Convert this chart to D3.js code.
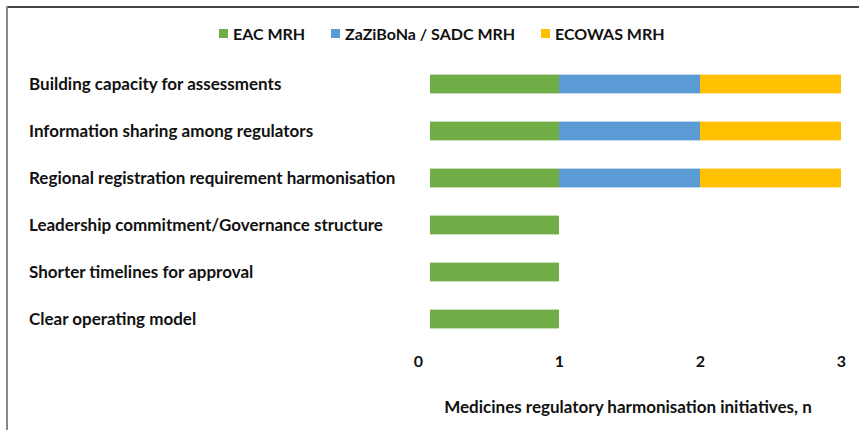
<!DOCTYPE html>
<meta charset="utf-8">
<head>
<style>
  * { margin: 0; padding: 0; }
  body { background: #fff; }
  svg { display: block; font-family: Lato, "Open Sans", sans-serif; font-weight: bold; }
</style>
</head>
<body>
<svg id="chart" width="859" height="430"></svg>
<script src="https://cdn.jsdelivr.net/npm/d3@7"></script>
<script>
// categories, top to bottom
var categories = [
  "Building capacity for assessments",
  "Information sharing among regulators",
  "Regional registration requirement harmonisation",
  "Leadership commitment/Governance structure",
  "Shorter timelines for approval",
  "Clear operating model"
];
var seriesNames = ["EAC MRH", "ZaZiBoNa / SADC MRH", "ECOWAS MRH"];
var seriesColors = ["#70AD47", "#5B9BD5", "#FFC000"];
var eacValues    = [1, 1, 1, 1, 1, 1];
var sadcValues   = [1, 1, 1, 0, 0, 0];
var ecowasValues = [1, 1, 1, 0, 0, 0];
var xTicks = [0, 1, 2, 3];
var xTitle = "Medicines regulatory harmonisation initiatives, n";

var svg = d3.select("#chart");

// frame lines
svg.append("line").attr("x1", 7).attr("x2", 859).attr("y1", 7).attr("y2", 7)
  .attr("stroke", "#444").attr("stroke-width", 2);
svg.append("line").attr("x1", 7).attr("x2", 7).attr("y1", 6).attr("y2", 430)
  .attr("stroke", "#888").attr("stroke-width", 2);

var rows = categories.map(function(c, i) {
  return { cat: c, eac: eacValues[i], sadc: sadcValues[i], ecowas: ecowasValues[i] };
});
var stack = d3.stack().keys(["eac", "sadc", "ecowas"]);
var layers = stack(rows);

var x = d3.scaleLinear().domain([0, 3]).range([418, 841]);
var y = d3.scaleBand().domain(categories).range([60.5, 342.5]).paddingInner(0.6).paddingOuter(0.3);

var color = d3.scaleOrdinal().domain([0, 1, 2]).range(seriesColors);
// the first segment starts a little right of the zero tick in the original
var barStart = 12;

svg.append("g").selectAll("g")
  .data(layers)
  .enter().append("g")
  .attr("fill", function(d, i) { return color(i); })
  .selectAll("rect")
  .data(function(d) { return d; })
  .enter().append("rect")
  .attr("x", function(d) { return d[0] === 0 ? x(d[0]) + barStart : x(d[0]); })
  .attr("y", function(d) { return y(d.data.cat); })
  .attr("height", y.bandwidth())
  .attr("width", function(d) {
    var w = x(d[1]) - x(d[0]);
    if (d[0] === 0) w -= barStart;
    return Math.max(0, w);
  });

// category labels
svg.append("g").selectAll("text")
  .data(categories)
  .enter().append("text")
  .attr("x", 29)
  .attr("y", function(d) { return y(d) + y.bandwidth() / 2 + 6; })
  .attr("font-size", 17)
  .attr("fill", "#111")
  .text(function(d) { return d; });

// x axis (no line, labels only)
var xAxis = svg.append("g")
  .attr("transform", "translate(0,356)")
  .call(d3.axisBottom(x).tickValues(xTicks).tickSize(0).tickPadding(0).tickFormat(d3.format("d")));
xAxis.select(".domain").remove();
xAxis.selectAll("text")
  .attr("font-size", 16)
  .attr("font-family", "Lato, sans-serif")
  .attr("font-weight", "bold")
  .attr("fill", "#111");

svg.append("text")
  .attr("x", 628)
  .attr("y", 413)
  .attr("text-anchor", "middle")
  .attr("font-size", 17)
  .attr("fill", "#111")
  .text(xTitle);

// legend
var legendX = [219, 331, 541];
var legend = svg.append("g").selectAll("g")
  .data(seriesNames)
  .enter().append("g")
  .attr("transform", function(d, i) { return "translate(" + legendX[i] + ",29)"; });
legend.append("rect")
  .attr("width", 9).attr("height", 9)
  .attr("fill", function(d, i) { return color(i); });
legend.append("text")
  .attr("x", 14)
  .attr("y", 10.5)
  .attr("font-size", 16)
  .attr("fill", "#111")
  .text(function(d) { return d; });
</script>
</body>
